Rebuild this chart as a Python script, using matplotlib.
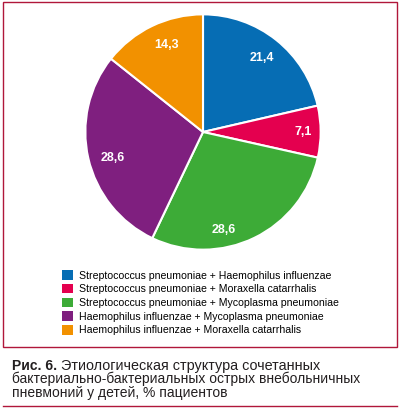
import matplotlib
matplotlib.use("Agg")
import matplotlib.pyplot as plt
from matplotlib import font_manager
import numpy as np

# Data
groups = ["Streptococcus pneumoniae + Haemophilus influenzae",
          "Streptococcus pneumoniae + Moraxella catarrhalis",
          "Streptococcus pneumoniae + Mycoplasma pneumoniae",
          "Haemophilus influenzae + Mycoplasma pneumoniae",
          "Haemophilus influenzae + Moraxella catarrhalis"]
shares = [21.4, 7.1, 28.6, 28.6, 14.3]
share_labels = ["21,4", "7,1", "28,6", "28,6", "14,3"]
colors = ["#066db4", "#e4004f", "#3dab37", "#7f1f7f", "#f29100"]

names = {f.name for f in font_manager.fontManager.ttflist}
font = "Liberation Sans Narrow" if "Liberation Sans Narrow" in names else "Liberation Sans"
plt.rcParams["font.family"] = [font, "DejaVu Sans"]

fig = plt.figure(figsize=(4.0, 4.09), dpi=100)
W, H = 400, 409

# frame around the chart
frame = plt.Rectangle((3 / W, 1 - 347 / H), 394 / W, 345 / H, transform=fig.transFigure,
                      fill=False, edgecolor="#b0173a", linewidth=1.0)
fig.patches.append(frame)

ax = fig.add_axes([83 / W, 1 - 252 / H, 240 / W, 240 / H])
wedges, _ = ax.pie(shares, colors=colors, startangle=90, counterclock=False,
                   wedgeprops=dict(edgecolor="white", linewidth=1.5))
ax.set_xlim(-1.02, 1.02)
ax.set_ylim(-1.02, 1.02)
ax.set_aspect("equal")
ax.axis("off")

# value labels inside the wedges
label_r = [0.8, 0.85, 0.85, 0.8, 0.8]
label_shift = [0, 0, -14, 3, -3]
for w, lab, r, sh in zip(wedges, share_labels, label_r, label_shift):
    ang = np.deg2rad((w.theta1 + w.theta2) / 2 + sh)
    ax.text(r * np.cos(ang), r * np.sin(ang), lab, color="white", fontsize=9,
            fontweight="bold", ha="center", va="center")

# legend
leg = fig.legend(wedges, groups, loc="upper left", bbox_to_anchor=(57 / W, 1 - 265 / H),
                 frameon=False, fontsize=7.6, handlelength=1.0, handleheight=1.0,
                 handletextpad=0.6, labelspacing=0.32, borderpad=0)
for h in leg.legend_handles:
    h.set_edgecolor("none")

# caption
y0 = 1 - 370 / H
bold = fig.text(12 / W, y0, "Рис. 6.", fontsize=10, fontweight="bold", color="#231f20",
                va="baseline")
fig.canvas.draw()
bb = bold.get_window_extent(fig.canvas.get_renderer())
fig.text(bb.x1 / W + 4 / W, y0, "Этиологическая структура сочетанных", fontsize=10.4,
         color="#231f20", va="baseline")
fig.text(12 / W, y0 - 13.5 / H, "бактериально-бактериальных острых внебольничных",
         fontsize=10, color="#231f20", va="baseline")
fig.text(12 / W, y0 - 27 / H, "пневмоний у детей, % пациентов", fontsize=10,
         color="#231f20", va="baseline")

fig.add_artist(plt.Line2D([3 / W, 397 / W], [1 - 406 / H, 1 - 406 / H],
                          transform=fig.transFigure, color="#b0173a", linewidth=1.0))

fig.savefig("out.png", dpi=100)
